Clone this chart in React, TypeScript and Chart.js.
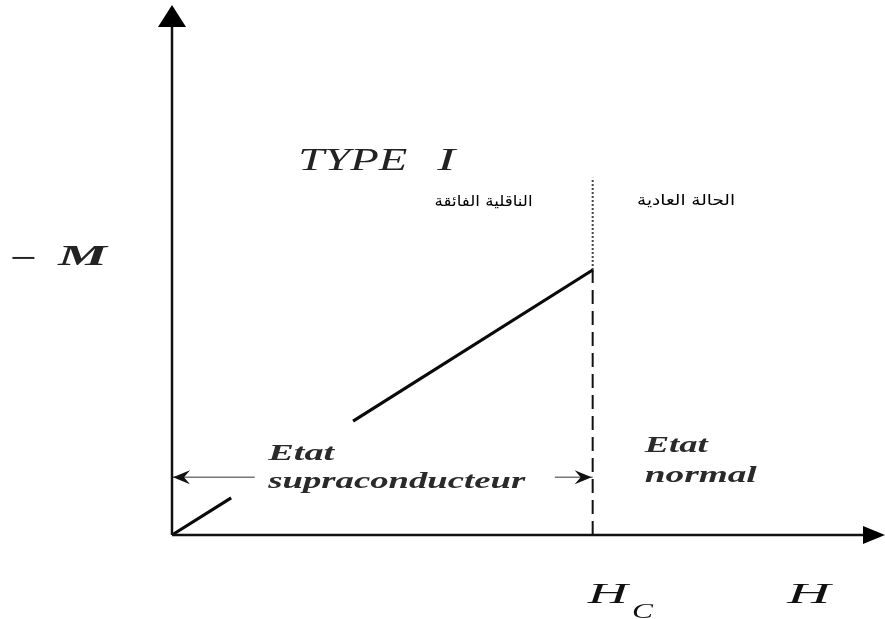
import React, { useEffect, useRef } from "react";
import { Chart, registerables } from "chart.js";

Chart.register(...registerables);

// ---- Data (H in arbitrary units, -M in arbitrary units) ----
const HC = 5.9; // critical field
const M_AT_HC = 5.0; // -M at Hc
const H_LOW = [0, 0.83];
const M_LOW = [0, 0.7];
const H_HIGH = [2.54, HC];
const M_HIGH = [2.15, M_AT_HC];
const DOTTED_TOP = 6.74;
const X_MAX = 10;
const Y_MAX = 10;
const ARROW_Y = 1.09; // level of the double arrow
const LEFT_ARROW_END = 1.16;
const RIGHT_ARROW_START = 5.37;

type Ann = {
  text: string;
  x: number;
  y: number;
  font: string;
  width: number;
  color: string;
  align?: "left" | "center";
  baseline?: CanvasTextBaseline;
  dir?: "rtl" | "ltr";
};

const ANNOTATIONS: Ann[] = [
  { text: "−", x: -2.27, y: 5.06, font: "bold 28px 'Liberation Serif'", width: 27, color: "#222" },
  { text: "M", x: -1.6, y: 5.09, font: "italic bold 30px 'Liberation Serif'", width: 49, color: "#222" },
  { text: "TYPE", x: 1.77, y: 6.89, font: "italic 31px 'Liberation Serif'", width: 109, color: "#222" },
  { text: "I", x: 3.72, y: 6.89, font: "italic 31px 'Liberation Serif'", width: 18, color: "#222" },
  { text: "الناقلية الفائقة", x: 4.37, y: 6.28, font: "15px 'DejaVu Sans'", width: 98, color: "#000", align: "center", baseline: "middle", dir: "rtl" },
  { text: "الحالة العادية", x: 7.21, y: 6.3, font: "15px 'DejaVu Sans'", width: 98, color: "#000", align: "center", baseline: "middle", dir: "rtl" },
  { text: "Etat", x: 1.35, y: 1.415, font: "italic bold 24px 'Liberation Serif'", width: 66, color: "#2a2a2a" },
  { text: "supraconducteur", x: 1.35, y: 0.887, font: "italic bold 24px 'Liberation Serif'", width: 257, color: "#2a2a2a" },
  { text: "Etat", x: 6.63, y: 1.566, font: "italic bold 24px 'Liberation Serif'", width: 63, color: "#2a2a2a" },
  { text: "normal", x: 6.63, y: 1.0, font: "italic bold 24px 'Liberation Serif'", width: 112, color: "#2a2a2a" },
  { text: "H", x: 5.83, y: -1.283, font: "italic 29px 'Liberation Serif'", width: 40, color: "#111" },
  { text: "C", x: 6.45, y: -1.566, font: "italic 22px 'Liberation Serif'", width: 21, color: "#111" },
  { text: "H", x: 8.63, y: -1.283, font: "italic 29px 'Liberation Serif'", width: 43, color: "#111" },
];

const pts = (xs: number[], ys: number[]) => xs.map((x, i) => ({ x, y: ys[i] }));

function drawArrowHead(
  ctx: CanvasRenderingContext2D,
  tipX: number,
  tipY: number,
  angle: number,
  len: number,
  half: number,
  barb: number,
  color: string
) {
  ctx.save();
  ctx.translate(tipX, tipY);
  ctx.rotate(angle);
  ctx.fillStyle = color;
  ctx.beginPath();
  ctx.moveTo(0, 0);
  ctx.lineTo(-len, -half);
  ctx.lineTo(-len + barb, 0);
  ctx.lineTo(-len, half);
  ctx.closePath();
  ctx.fill();
  ctx.restore();
}

const decorPlugin = {
  id: "decor",
  afterDatasetsDraw(chart: any) {
    const ctx: CanvasRenderingContext2D = chart.ctx;
    const xs = chart.scales.x;
    const ys = chart.scales.y;
    const px = (v: number) => xs.getPixelForValue(v);
    const py = (v: number) => ys.getPixelForValue(v);

    // axis arrowheads
    drawArrowHead(ctx, px(0), py(Y_MAX), -Math.PI / 2, 22, 14, 0, "#000");
    drawArrowHead(ctx, px(X_MAX), py(0), 0, 22, 9, 0, "#000");

    // double arrow heads
    drawArrowHead(ctx, px(0) + 1, py(ARROW_Y), Math.PI, 17, 7, 6, "#111");
    drawArrowHead(ctx, px(HC) - 1, py(ARROW_Y), 0, 17, 7, 6, "#111");

    // texts
    for (const a of ANNOTATIONS) {
      ctx.save();
      ctx.font = a.font;
      ctx.fillStyle = a.color;
      ctx.textBaseline = a.baseline || "alphabetic";
      (ctx as any).direction = a.dir || "ltr";
      ctx.textAlign = "left";
      const m = ctx.measureText(a.text).width;
      const sx = a.width / m;
      let x0 = px(a.x);
      if (a.align === "center") x0 -= a.width / 2;
      ctx.translate(x0, py(a.y));
      ctx.scale(sx, 1);
      if (a.dir === "rtl") {
        ctx.textAlign = "right";
        ctx.fillText(a.text, m, 0);
      } else {
        ctx.fillText(a.text, 0, 0);
      }
      ctx.restore();
    }
  },
};

export default function App() {
  const ref = useRef<HTMLCanvasElement | null>(null);
  useEffect(() => {
    if (!ref.current) return;
    const line = (data: any[], extra: any = {}) => ({
      type: "line" as const,
      data,
      borderColor: "#000",
      borderWidth: 3,
      pointRadius: 0,
      fill: false,
      tension: 0,
      clip: false,
      ...extra,
    });
    const chart = new Chart(ref.current, {
      type: "scatter",
      data: {
        datasets: [
          line(pts([0, X_MAX - 0.2], [0, 0]), { borderWidth: 2.5, borderColor: "#111" }),
          line(pts([0, 0], [0, Y_MAX - 0.3]), { borderWidth: 2.5, borderColor: "#111" }),
          line(pts(H_LOW, M_LOW), { borderWidth: 3.2, borderColor: "#0a0a0a" }),
          line(pts(H_HIGH, M_HIGH), { borderWidth: 3.2, borderColor: "#0a0a0a" }),
          line(pts([HC, HC], [0, M_AT_HC]), { borderWidth: 2, borderDash: [14, 7], borderColor: "#111" }),
          line(pts([HC, HC], [M_AT_HC, DOTTED_TOP]), { borderWidth: 2, borderDash: [2, 2], borderColor: "#444" }),
          line(pts([0, LEFT_ARROW_END], [ARROW_Y, ARROW_Y]), { borderWidth: 1.5, borderColor: "#777" }),
          line(pts([RIGHT_ARROW_START, HC], [ARROW_Y, ARROW_Y]), { borderWidth: 1.5, borderColor: "#777" }),
        ],
      },
      options: {
        animation: false,
        responsive: false,
        maintainAspectRatio: false,
        layout: { padding: { left: 172, top: 5, right: 0, bottom: 84 } },
        plugins: { legend: { display: false }, tooltip: { enabled: false } },
        scales: {
          x: { type: "linear", min: 0, max: X_MAX, display: false },
          y: { type: "linear", min: 0, max: Y_MAX, display: false },
        },
      },
      plugins: [decorPlugin],
    });
    return () => chart.destroy();
  }, []);
  return (
    <div style={{ position: "absolute", left: 0, top: 0, width: 885, height: 619, background: "#fff" }}>
      <canvas ref={ref} width={885} height={619} style={{ width: 885, height: 619 }} />
    </div>
  );
}
